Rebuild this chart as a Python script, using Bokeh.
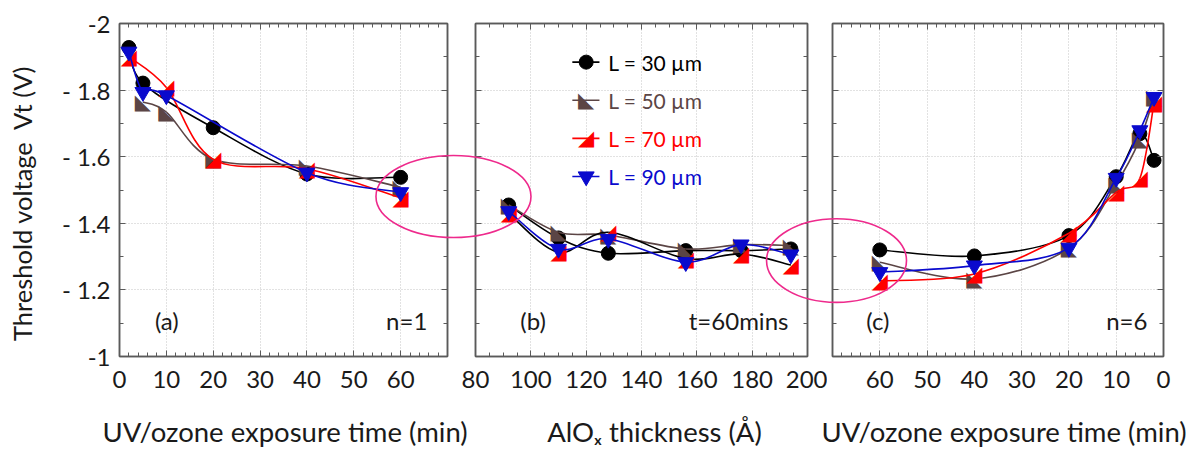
import numpy as np
from bokeh.plotting import figure
from bokeh.layouts import row, column
from bokeh.models import (Range1d, FixedTicker, LinearAxis, ColumnDataSource, Label,
                          CustomLabelingPolicy)
from bokeh.embed import file_html
from bokeh.resources import INLINE
from bokeh.core.properties import value

# ------------------------------------------------------------------ data
SERIES_LABELS = ["L = 30 µm", "L = 50 µm", "L = 70 µm", "L = 90 µm"]
SERIES_COLORS = ["#000000", "#5b4545", "#ff0000", "#0a0acd"]
SERIES_MARKERS = ["circle", "◣", "◢", "inverted_triangle"]

# panel (a): UV/ozone exposure time (min), n = 1
A_X_30 = [2, 5, 20, 40, 60]
A_Y_30 = [-1.928, -1.821, -1.687, -1.548, -1.538]
A_X_50 = [5, 10, 20, 40, 60]
A_Y_50 = [-1.764, -1.734, -1.592, -1.572, -1.508]
A_X_70 = [2, 10, 20, 40, 60]
A_Y_70 = [-1.900, -1.808, -1.592, -1.564, -1.476]
A_X_90 = [2, 5, 10, 40, 60]
A_Y_90 = [-1.915, -1.794, -1.784, -1.552, -1.493]

# panel (b): AlOx thickness (Å), t = 60 mins
B_X = [92, 110, 128, 156, 176, 194]
B_Y_30 = [-1.455, -1.356, -1.310, -1.318, -1.318, -1.323]
B_Y_50 = [-1.455, -1.373, -1.365, -1.323, -1.336, -1.333]
B_Y_70 = [-1.430, -1.313, -1.373, -1.294, -1.308, -1.275]
B_Y_90 = [-1.436, -1.323, -1.353, -1.283, -1.336, -1.306]

# panel (c): UV/ozone exposure time (min), n = 6
C_X = [60, 40, 20, 10, 5, 2]
C_Y_30 = [-1.320, -1.302, -1.363, -1.540, -1.669, -1.589]
C_Y_50 = [-1.283, -1.233, -1.325, -1.519, -1.652, -1.780]
C_Y_70 = [-1.227, -1.248, -1.370, -1.493, -1.535, -1.762]
C_Y_90 = [-1.253, -1.273, -1.326, -1.536, -1.679, -1.779]

# axes
Y_TICKS = [-2, -1.8, -1.6, -1.4, -1.2, -1]
Y_TICK_LABELS = ["-2", "- 1.8", "- 1.6", "- 1.4", "- 1.2", "-1"]
Y_MINOR = [-1.9, -1.7, -1.5, -1.3, -1.1]
A_TICKS = [0, 10, 20, 30, 40, 50, 60]
B_TICKS = [80, 100, 120, 140, 160, 180, 200]
C_TICKS = [60, 50, 40, 30, 20, 10, 0]

Y_TITLE = "Threshold voltage\u00a0 Vt (V)"
X_TITLES = ["UV/ozone exposure time (min)", "AlOₓ thickness (Å)", "UV/ozone exposure time (min)"]
PANEL_TAGS = ["(a)", "(b)", "(c)"]
PANEL_NOTES = ["n=1", "t=60mins", "n=6"]

# highlight ellipses: (panel, centre x, centre y, half-width, half-height) in that panel's data units
ELLIPSES = [("a", 70.63, -1.4805, 16.39, 0.1233), ("c", 69.15, -1.288, 14.8, 0.1255)]

# ------------------------------------------------------------------ style / layout
FONT = "Lato"
TXT = "#1a1a1a"
FRAME = "#5a5a5a"
GRID = "#c4c4c4"
PINK = "#ee2a8c"
B_LINE_COLORS = ["#000000", "#5b4545", "#000000", "#0a0acd"]  # (b): 70 µm drawn with a black line

CANVAS_H, TOP, FRAME_H = 400, 23, 333
BOTTOM = CANVAS_H - TOP - FRAME_H
PANELS = {  # left border, frame width, right border, x range
    "a": (119, 331, 2, (0, 70)),
    "b": (23, 332, 20, (80, 200)),
    "c": (5, 331, 38, (70, 0)),
}
ORDER = ["a", "b", "c"]
STRIP_H = 56
NO_LABELS = CustomLabelingPolicy(code="return []")


def canvas_left_page(key):
    x = 0
    for k in ORDER:
        l, w, r, _ = PANELS[k]
        if k == key:
            return x
        x += l + w + r


def frame_left_page(key):
    return canvas_left_page(key) + PANELS[key][0]


def to_page_x(key, X):
    l, w, r, (s, e) = PANELS[key]
    return frame_left_page(key) + (np.asarray(X, float) - s) / (e - s) * w


def to_page_y(V):
    return TOP + (np.asarray(V, float) + 2.0) * FRAME_H


def catmull_bezier(xs, ys):
    P = np.column_stack([xs, ys]).astype(float)
    n = len(P)
    out = dict(x0=[], y0=[], x1=[], y1=[], cx0=[], cy0=[], cx1=[], cy1=[])
    for i in range(n - 1):
        p0 = P[i - 1] if i > 0 else P[i]
        p1, p2 = P[i], P[i + 1]
        p3 = P[i + 2] if i + 2 < n else P[i + 1]
        c1 = p1 + (p2 - p0) / 6.0
        c2 = p2 - (p3 - p1) / 6.0
        out["x0"].append(p1[0]); out["y0"].append(p1[1])
        out["x1"].append(p2[0]); out["y1"].append(p2[1])
        out["cx0"].append(c1[0]); out["cy0"].append(c1[1])
        out["cx1"].append(c2[0]); out["cy1"].append(c2[1])
    return out


def draw_markers(p, xs, ys, marker, color):
    if marker in ("◣", "◢"):
        p.text(x=xs, y=ys, text=[marker] * len(xs), text_color=color,
               text_font=value("DejaVu Sans"), text_font_size="21px",
               text_align="center", text_baseline="middle")
    elif marker == "circle":
        p.scatter(xs, ys, marker="circle", size=14, fill_color=color, line_color=color)
    else:
        p.scatter(xs, ys, marker=marker, size=16, fill_color=color, line_color=color)


def style_axis(ax, ticker, labels=True, size="24px"):
    ax.ticker = ticker
    ax.major_tick_in = 6
    ax.major_tick_out = 0
    ax.minor_tick_in = 4
    ax.minor_tick_out = 0
    ax.major_tick_line_color = FRAME
    ax.minor_tick_line_color = FRAME
    ax.axis_line_color = FRAME
    ax.axis_line_width = 1.5
    ax.major_label_text_font = FONT
    ax.major_label_text_color = TXT
    if labels:
        ax.major_label_text_font_size = size
    else:
        ax.major_label_policy = NO_LABELS
        ax.major_label_text_font_size = "1px"
        ax.major_label_standoff = 0


def make_panel(key, x_ticks, x_minor):
    l, w, r, (s, e) = PANELS[key]
    p = figure(width=l + w + r, height=CANVAS_H, x_range=Range1d(s, e), y_range=Range1d(-1, -2),
               output_backend="svg", toolbar_location=None,
               min_border_left=l, min_border_right=r, min_border_top=TOP, min_border_bottom=BOTTOM)
    p.outline_line_color = FRAME
    p.outline_line_width = 1.5
    xt = FixedTicker(ticks=x_ticks, minor_ticks=x_minor)
    yt = FixedTicker(ticks=Y_TICKS, minor_ticks=Y_MINOR)
    style_axis(p.xaxis[0], xt)
    p.xaxis[0].major_label_standoff = 14
    style_axis(p.yaxis[0], yt, labels=(key == "a"))
    top = LinearAxis(); style_axis(top, xt, labels=False); p.add_layout(top, "above")
    right = LinearAxis(); style_axis(right, yt, labels=False); p.add_layout(right, "right")
    p.xgrid.ticker = xt
    p.ygrid.ticker = yt
    for g in (p.xgrid, p.ygrid):
        g.grid_line_color = GRID
        g.grid_line_dash = "1 2"
        g.grid_line_width = 1
    p.background_fill_color = "white"
    p.border_fill_color = "white"
    return p


pa = make_panel("a", A_TICKS, list(range(0, 71, 2)))
pb = make_panel("b", B_TICKS, list(range(80, 201, 5)))
pc = make_panel("c", C_TICKS, list(range(0, 71, 2)))

# y axis labels / title on panel (a)
pa.yaxis[0].major_label_overrides = {t: s for t, s in zip(Y_TICKS, Y_TICK_LABELS)}
pa.yaxis[0].major_label_standoff = 9
pa.yaxis[0].axis_label = Y_TITLE + "\u00a0" * 4
pa.yaxis[0].axis_label_text_font = FONT
pa.yaxis[0].axis_label_text_font_size = "25.5px"
pa.yaxis[0].axis_label_text_font_style = "normal"
pa.yaxis[0].axis_label_text_color = TXT
pa.yaxis[0].axis_label_standoff = 22

# ------------------------------------------------------------------ series
A_DATA = [(A_X_30, A_Y_30), (A_X_50, A_Y_50), (A_X_70, A_Y_70), (A_X_90, A_Y_90)]
B_DATA = [(B_X, B_Y_30), (B_X, B_Y_50), (B_X, B_Y_70), (B_X, B_Y_90)]
C_DATA = [(C_X, C_Y_30), (C_X, C_Y_50), (C_X, C_Y_70), (C_X, C_Y_90)]

for p, data, line_colors in ((pa, A_DATA, SERIES_COLORS), (pb, B_DATA, B_LINE_COLORS),
                             (pc, C_DATA, SERIES_COLORS)):
    for (xs, ys), mk, col, lcol in zip(data, SERIES_MARKERS, SERIES_COLORS, line_colors):
        src = ColumnDataSource(catmull_bezier(xs, ys))
        p.bezier(x0="x0", y0="y0", x1="x1", y1="y1", cx0="cx0", cy0="cy0", cx1="cx1", cy1="cy1",
                 source=src, line_color=lcol, line_width=1.6)
        draw_markers(p, xs, ys, mk, col)

# ------------------------------------------------------------------ legend in panel (b)
LEG_Y0, LEG_DY = -1.884, 0.1145
LEG_X_LINE = (115.0, 124.8)
LEG_X_MARK, LEG_X_TEXT = 120.0, 128.0
for i, (lab, col, mk) in enumerate(zip(SERIES_LABELS, SERIES_COLORS, SERIES_MARKERS)):
    yy = LEG_Y0 + i * LEG_DY
    pb.line(list(LEG_X_LINE), [yy, yy], line_color=col, line_width=1.6)
    draw_markers(pb, [LEG_X_MARK], [yy], mk, col)
    pb.text(x=[LEG_X_TEXT], y=[yy], text=[lab], text_color=col, text_font=value(FONT),
            text_font_size="21px", text_align="left", text_baseline="middle")

# ------------------------------------------------------------------ panel tags / notes
TAG_Y = -1.107
for p, key, tag, note, tag_x, note_x in ((pa, "a", PANEL_TAGS[0], PANEL_NOTES[0], 10.1, 65.7),
                                          (pb, "b", PANEL_TAGS[1], PANEL_NOTES[1], 100.8, 193.1),
                                          (pc, "c", PANEL_TAGS[2], PANEL_NOTES[2], 60.4, 3.4)):
    p.add_layout(Label(x=tag_x, y=TAG_Y, text=tag, text_font=FONT, text_font_size="24px",
                       text_color=TXT, text_align="center", text_baseline="middle"))
    p.add_layout(Label(x=note_x, y=TAG_Y, text=note, text_font=FONT, text_font_size="24px",
                       text_color=TXT, text_align="right", text_baseline="middle"))

# ------------------------------------------------------------------ x-axis titles strip
TOTAL_W = sum(l + w + r for l, w, r, _ in PANELS.values())
TOTAL_H = CANVAS_H + STRIP_H
strip = figure(width=TOTAL_W, height=STRIP_H, x_range=Range1d(0, TOTAL_W), y_range=Range1d(0, STRIP_H),
               output_backend="svg", toolbar_location=None, x_axis_location=None, y_axis_location=None,
               min_border=0)
strip.outline_line_color = None
strip.grid.visible = False
TITLE_OFFSETS = [0, 13, 6]
for key, title, off in zip(ORDER, X_TITLES, TITLE_OFFSETS):
    l, w, r, _ = PANELS[key]
    cxp = frame_left_page(key) + w / 2 + off
    strip.add_layout(Label(x=cxp, y=25, text=title, text_font=FONT, text_font_size="27.5px",
                           text_color=TXT, text_align="center", text_baseline="middle"))

# ------------------------------------------------------------------ transparent overlay for ellipses
# (the ellipses cross the white gaps between the panels, so they live on a page-wide layer)
overlay = figure(width=TOTAL_W, height=TOTAL_H, x_range=Range1d(0, TOTAL_W), y_range=Range1d(TOTAL_H, 0),
                 output_backend="svg", toolbar_location=None, x_axis_location=None, y_axis_location=None,
                 min_border=0, margin=(-TOTAL_H, 0, 0, 0))
overlay.outline_line_color = None
overlay.grid.visible = False
overlay.background_fill_alpha = 0
overlay.border_fill_alpha = 0
ell = dict(x=[], y=[], w=[], h=[])
for key0, cx, cy, rx, ry in ELLIPSES:
    l, w, r, (s, e) = PANELS[key0]
    ell["x"].append(float(to_page_x(key0, cx)))
    ell["y"].append(float(to_page_y(cy)))
    ell["w"].append(2 * rx * w / abs(e - s))
    ell["h"].append(2 * ry * FRAME_H)
overlay.ellipse(x="x", y="y", width="w", height="h", source=ColumnDataSource(ell),
                fill_color=None, line_color=PINK, line_width=1.6)

layout = column(row(pa, pb, pc), strip, overlay)
open("out.html", "w").write(file_html(layout, INLINE))
